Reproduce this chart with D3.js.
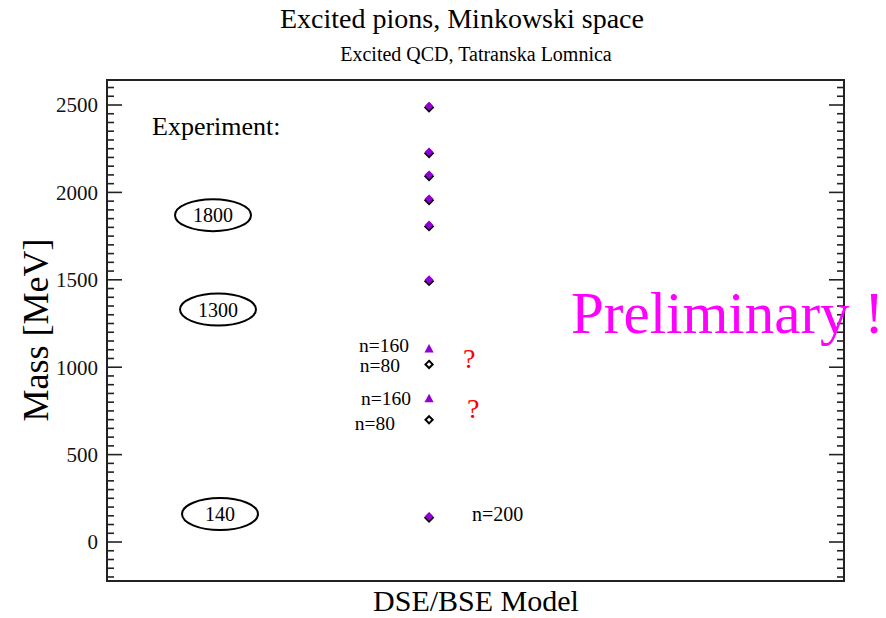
<!DOCTYPE html>
<html>
<head>
<meta charset="utf-8">
<script src="https://cdn.jsdelivr.net/npm/d3@7"></script>
<style>
  html, body { margin: 0; padding: 0; background: #fff; }
  svg { display: block; font-family: "Liberation Serif", "DejaVu Serif", serif; }
</style>
</head>
<body>
<svg id="chart" width="886" height="618"></svg>
<script>
// Model masses (MeV)
const fullModel = [2490, 2228, 2097, 1960, 1810, 1497, 143];   // filled diamonds
const n160 = [1104, 820];                                      // triangles, n=160
const n80 = [1016, 699];                                       // open diamonds, n=80
// Experimental states (MeV)
const expStates = [1870, 1330, 160];
const expLabels = ["1800", "1300", "140"];
const yTicks = [0, 500, 1000, 1500, 2000, 2500];

const svg = d3.select("#chart");
const m = { left: 107, right: 844, top: 80, bottom: 581 };

const x = d3.scaleLinear().domain([0, 1]).range([m.left, m.right]);
const y = d3.scaleLinear().domain([-223, 2643]).range([m.bottom, m.top]);

const modelX = 0.437;

// Frame
svg.append("rect")
  .attr("x", m.left).attr("y", m.top)
  .attr("width", m.right - m.left).attr("height", m.bottom - m.top)
  .attr("fill", "none").attr("stroke", "#222").attr("stroke-width", 2);

// Left and right axes with inward ticks
const minor = d3.range(-200, 2650, 50).filter(v => v % 500 !== 0);
function ticksAt(g, dir) {
  g.selectAll(".mj").data(yTicks).join("line").attr("class", "mj")
    .attr("x1", 0).attr("x2", dir * 15)
    .attr("y1", d => y(d)).attr("y2", d => y(d))
    .attr("stroke", "#222").attr("stroke-width", 1.6);
  g.selectAll(".mn").data(minor).join("line").attr("class", "mn")
    .attr("x1", 0).attr("x2", dir * 7)
    .attr("y1", d => y(d)).attr("y2", d => y(d))
    .attr("stroke", "#222").attr("stroke-width", 1.6);
}
const gl = svg.append("g").attr("transform", `translate(${m.left},0)`);
ticksAt(gl, 1);
const gr = svg.append("g").attr("transform", `translate(${m.right},0)`);
ticksAt(gr, -1);

gl.selectAll("text.tl").data(yTicks).join("text").attr("class", "tl")
  .attr("x", -9).attr("y", d => y(d)).attr("dy", "0.35em")
  .attr("text-anchor", "end").attr("font-size", 21).attr("fill", "#111")
  .text(d => d);

// Titles
svg.append("text").attr("x", 462).attr("y", 28).attr("text-anchor", "middle")
  .attr("font-size", 28).text("Excited pions, Minkowski space");
svg.append("text").attr("x", 476).attr("y", 61).attr("text-anchor", "middle")
  .attr("font-size", 20).text("Excited QCD, Tatranska Lomnica");
svg.append("text").attr("x", 476).attr("y", 611).attr("text-anchor", "middle")
  .attr("font-size", 30).text("DSE/BSE Model");
svg.append("text").attr("transform", `translate(48,${330}) rotate(-90)`)
  .attr("text-anchor", "middle").attr("font-size", 36).text("Mass [MeV]");

// Experimental states
svg.append("text").attr("x", 152).attr("y", 135).attr("font-size", 26).text("Experiment:");
const ex = svg.append("g");
const exX = [213, 218, 220];
ex.selectAll("ellipse").data(expStates).join("ellipse")
  .attr("cx", (d, i) => exX[i]).attr("cy", d => y(d))
  .attr("rx", 38).attr("ry", 16)
  .attr("fill", "none").attr("stroke", "#000").attr("stroke-width", 2);
ex.selectAll("text").data(expStates).join("text")
  .attr("x", (d, i) => exX[i]).attr("y", d => y(d)).attr("dy", "0.35em")
  .attr("text-anchor", "middle").attr("font-size", 20)
  .text((d, i) => expLabels[i]);

// Model points
const diamondPath = r => `M0,${-r}L${r},0L0,${r}L${-r},0Z`;
const px = x(modelX);
const g = svg.append("g");
g.selectAll("path.shadow").data(fullModel).join("path").attr("class", "shadow")
  .attr("transform", d => `translate(${px},${y(d) + 0.8})`)
  .attr("d", diamondPath(5.2)).attr("fill", "#000");
g.selectAll("path.full").data(fullModel).join("path").attr("class", "full")
  .attr("transform", d => `translate(${px},${y(d) - 0.6})`)
  .attr("d", diamondPath(4.4)).attr("fill", "#9400d3");

const triPath = "M0,-5L4.6,3.5L-4.6,3.5Z";
g.selectAll("path.tri").data(n160).join("path").attr("class", "tri")
  .attr("transform", d => `translate(${px},${y(d)})`)
  .attr("d", triPath).attr("fill", "#9400d3");

g.selectAll("path.open").data(n80).join("path").attr("class", "open")
  .attr("transform", d => `translate(${px},${y(d)})`)
  .attr("d", diamondPath(3.6))
  .attr("fill", "#fff").attr("stroke", "#000").attr("stroke-width", 2);

// Point labels
const lab = [
  { v: n160[0], t: "n=160", x: 409, dy: -3 },
  { v: n80[0],  t: "n=80",  x: 400, dy: 1 },
  { v: n160[1], t: "n=160", x: 411, dy: 0 },
  { v: n80[1],  t: "n=80",  x: 395, dy: 4 }
];
svg.selectAll("text.nl").data(lab).join("text").attr("class", "nl")
  .attr("x", d => d.x).attr("y", d => y(d.v) + d.dy).attr("dy", "0.33em")
  .attr("text-anchor", "end").attr("font-size", 19.5).text(d => d.t);
svg.append("text").attr("x", 472).attr("y", y(fullModel[6]) - 3).attr("dy", "0.35em")
  .attr("font-size", 20).text("n=200");

svg.append("text").attr("x", 463).attr("y", 368).attr("font-size", 28)
  .attr("fill", "#ff0000").text("?");
svg.append("text").attr("x", 467).attr("y", 418).attr("font-size", 28)
  .attr("fill", "#ff0000").text("?");

svg.append("text").attr("x", 571).attr("y", 333).attr("font-size", 59)
  .attr("fill", "#ff00ff").text("Preliminary !");
</script>
</body>
</html>
